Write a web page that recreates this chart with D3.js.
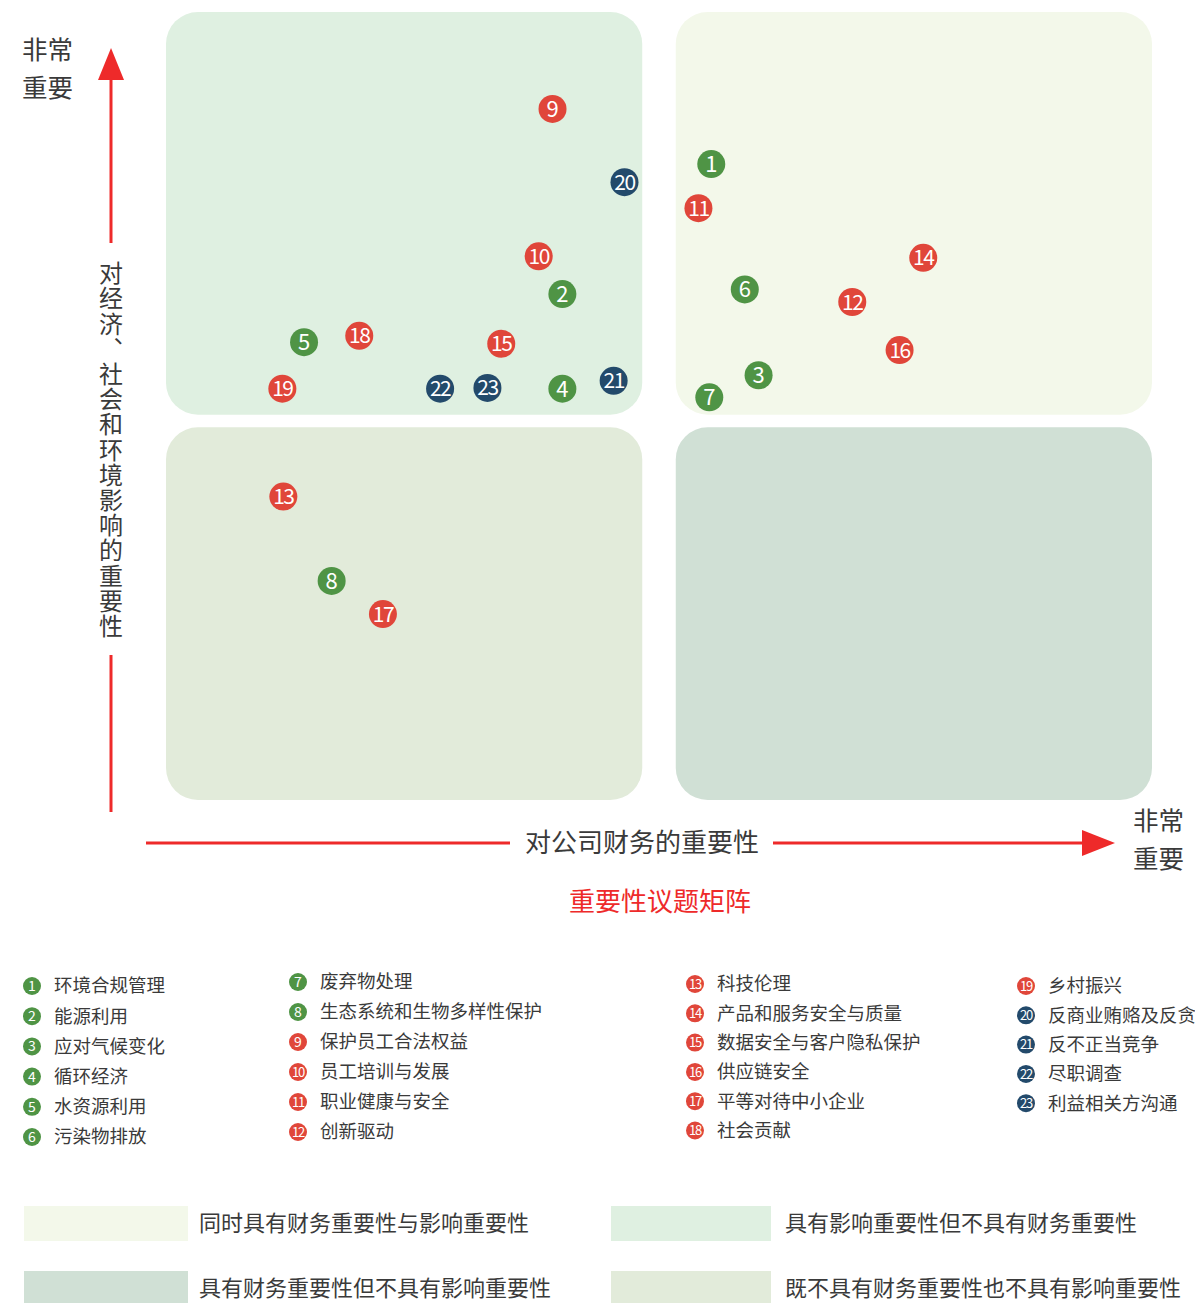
<!DOCTYPE html>
<html>
<head>
<meta charset="utf-8">
<script src="https://cdn.jsdelivr.net/npm/d3@7"></script>
<style>
  body { margin: 0; background: #fff; }
  svg { display: block; font-family: "Noto Sans CJK SC", "Noto Sans", sans-serif; }
</style>
</head>
<body>
<script>
// topic ids, names and groups (env / social / governance)
const ids = d3.range(1, 24);
const names = ['环境合规管理', '能源利用', '应对气候变化', '循环经济', '水资源利用', '污染物排放',
  '废弃物处理', '生态系统和生物多样性保护', '保护员工合法权益', '员工培训与发展', '职业健康与安全', '创新驱动',
  '科技伦理', '产品和服务安全与质量', '数据安全与客户隐私保护', '供应链安全', '平等对待中小企业', '社会贡献',
  '乡村振兴', '反商业贿赂及反贪污', '反不正当竞争', '尽职调查', '利益相关方沟通'];
const groups = ['E', 'E', 'E', 'E', 'E', 'E', 'E', 'E', 'S', 'S', 'S', 'S', 'S', 'S', 'S', 'S', 'S', 'S', 'S',
  'G', 'G', 'G', 'G'];
// importance to finance (x) and impact (y), 0-100
const finance = [55.3, 40.2, 60.1, 40.2, 14.0, 58.7, 55.1, 16.8, 39.2, 37.8, 54.0, 69.6, 11.9, 76.8, 34.0, 74.4,
  22.0, 19.6, 11.8, 46.5, 45.4, 27.8, 32.6];
const impact = [80.7, 64.2, 53.9, 52.2, 58.1, 64.8, 51.1, 27.8, 87.7, 69.0, 75.1, 63.2, 38.5, 68.8, 57.9, 57.1,
  23.6, 58.9, 52.2, 78.4, 53.2, 52.2, 52.3];
// quadrants: [x0, x1, y0, y1] in the same 0-100 space
const quadNames = ['具有影响重要性但不具有财务重要性', '同时具有财务重要性与影响重要性',
  '既不具有财务重要性也不具有影响重要性', '具有财务重要性但不具有影响重要性'];
const quadX = [[0, 48.3], [51.7, 100], [0, 48.3], [51.7, 100]];
const quadY = [[48.9, 100], [48.9, 100], [0, 47.3], [0, 47.3]];
const quadColors = ['#dff0e1', '#f3f8ea', '#e2ebda', '#d0e0d5'];
const legendCols = [[1, 2, 3, 4, 5, 6], [7, 8, 9, 10, 11, 12], [13, 14, 15, 16, 17, 18], [19, 20, 21, 22, 23]];
const swatchOrder = [1, 0, 3, 2];

const w = 1195, h = 1303;
const red = '#ee2a2a';
const color = d3.scaleOrdinal().domain(['E', 'S', 'G']).range(['#4f9445', '#e0463a', '#234a6b']);
const data = ids.map((id, i) => ({ id, name: names[i], g: groups[i], x: finance[i], y: impact[i] }));

const x = d3.scaleLinear().domain([0, 100]).range([166, 1152]);
const y = d3.scaleLinear().domain([0, 100]).range([800, 12]);

const svg = d3.select('body').append('svg').attr('width', w).attr('height', h);

// quadrant backgrounds
svg.selectAll('rect.quad')
  .data(quadNames)
  .enter()
  .append('rect')
  .attr('class', 'quad')
  .attr('x', (d, i) => x(quadX[i][0]))
  .attr('width', (d, i) => x(quadX[i][1]) - x(quadX[i][0]))
  .attr('y', (d, i) => y(quadY[i][1]))
  .attr('height', (d, i) => y(quadY[i][0]) - y(quadY[i][1]))
  .attr('rx', 32)
  .attr('fill', (d, i) => quadColors[i]);

// y arrow
const ax = svg.append('g').attr('stroke', red).attr('stroke-width', 3);
ax.append('line').attr('x1', 111).attr('x2', 111).attr('y1', 812).attr('y2', 655);
ax.append('line').attr('x1', 111).attr('x2', 111).attr('y1', 243).attr('y2', 76);
svg.append('path').attr('d', 'M98,80 L111,48 L124,80 Z').attr('fill', red);
svg.append('text')
  .attr('x', 111).attr('y', 261)
  .style('writing-mode', 'vertical-rl')
  .style('text-orientation', 'upright')
  .attr('font-size', 24)
  .attr('letter-spacing', 1.2)
  .attr('fill', '#3a3a3a')
  .text('对经济、社会和环境影响的重要性');

// x arrow
ax.append('line').attr('x1', 146).attr('x2', 510).attr('y1', 843).attr('y2', 843);
ax.append('line').attr('x1', 773).attr('x2', 1088).attr('y1', 843).attr('y2', 843);
svg.append('path').attr('d', 'M1082,830 L1115,843 L1082,856 Z').attr('fill', red);
svg.append('text')
  .attr('x', 642).attr('y', 852)
  .attr('text-anchor', 'middle')
  .attr('font-size', 26)
  .attr('fill', '#3a3a3a')
  .text('对公司财务的重要性');

// "very important" corner labels
[[22, 59], [1133, 830]].forEach(([tx, ty]) => {
  ['非常', '重要'].forEach((s, k) => {
    svg.append('text').attr('x', tx).attr('y', ty + k * 38)
      .attr('font-size', 25.5).attr('fill', '#3a3a3a').text(s);
  });
});

// title
svg.append('text')
  .attr('x', 660).attr('y', 911)
  .attr('text-anchor', 'middle')
  .attr('font-size', 26)
  .attr('fill', red)
  .text('重要性议题矩阵');

// points
const pts = svg.selectAll('g.pt')
  .data(data)
  .enter()
  .append('g')
  .attr('class', 'pt')
  .attr('transform', (d) => `translate(${x(d.x)},${y(d.y)})`);
pts.append('circle').attr('r', 14).attr('fill', (d) => color(d.g));
pts.append('text')
  .attr('text-anchor', 'middle')
  .attr('dy', '0.36em')
  .attr('font-size', (d) => d.id > 9 ? 21 : 22)
  .attr('letter-spacing', (d) => d.id > 9 ? -1.5 : 0)
  .attr('fill', '#fff')
  .text((d) => d.id);

// numbered legend
const colX = [32, 298, 695, 1026];
const colY = [[986, 30.2], [982, 30], [984, 29.3], [986, 29.3]];
legendCols.forEach((col, c) => {
  const g = svg.selectAll(null)
    .data(col)
    .enter()
    .append('g')
    .attr('transform', (d, i) => `translate(${colX[c]},${colY[c][0] + i * colY[c][1]})`);
  g.append('circle').attr('r', 9).attr('fill', (d) => color(groups[d - 1]));
  g.append('text')
    .attr('text-anchor', 'middle').attr('dy', '0.36em')
    .attr('font-size', (d) => d > 9 ? 13 : 14)
    .attr('letter-spacing', (d) => d > 9 ? -1.2 : 0)
    .attr('fill', '#fff')
    .text((d) => d);
  g.append('text')
    .attr('x', 22).attr('dy', '0.35em')
    .attr('font-size', 18.5)
    .attr('fill', '#3a3a3a')
    .text((d) => names[d - 1]);
});

// quadrant legend
const swX = [24, 611], swY = [1206, 1271];
swatchOrder.forEach((q, k) => {
  const sx = swX[k % 2], sy = swY[Math.floor(k / 2)];
  svg.append('rect').attr('x', sx).attr('y', sy).attr('width', k % 2 ? 160 : 164).attr('height', 35)
    .attr('fill', quadColors[q]);
  svg.append('text').attr('x', sx + (k % 2 ? 174 : 175)).attr('y', sy + 25)
    .attr('font-size', 22).attr('fill', '#3a3a3a').text(quadNames[q]);
});
</script>
</body>
</html>
